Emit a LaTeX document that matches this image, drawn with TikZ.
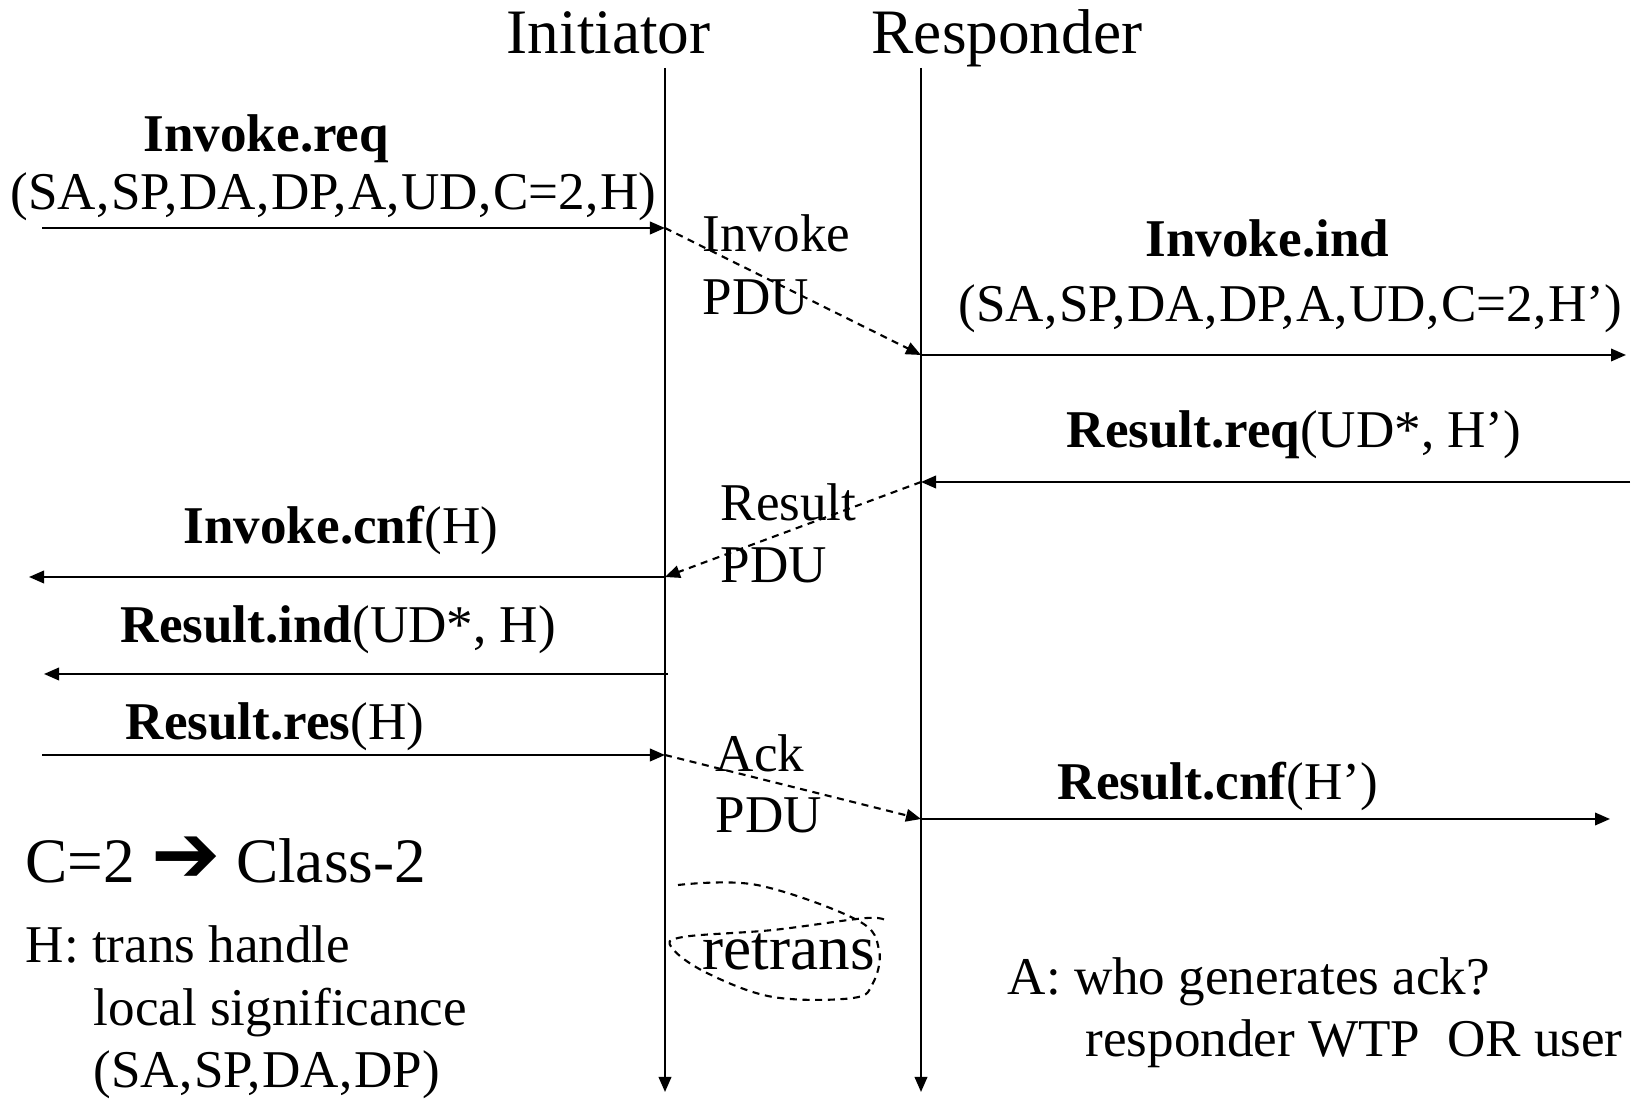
\documentclass[tikz,border=0pt]{standalone}
\usepackage{fontspec}
\setmainfont{Liberation Serif}
\newfontfamily\symfont{DejaVu Sans}
\usetikzlibrary{arrows.meta}
% comma with the slightly wider spacing of the parameter lists
\newcommand\sepc{,\kern0.5pt}
\begin{document}
\begin{tikzpicture}[x=0.01cm,y=-0.01cm,
  msg/.style={line width=0.6pt,-{Triangle[length=0.15cm,width=0.125cm]}},
  pdu/.style={msg,dash pattern=on 2pt off 1.6pt},
  lbl/.style={anchor=base west,inner sep=0pt,font=\fontsize{15.1}{18}\selectfont},
  big/.style={anchor=base west,inner sep=0pt,font=\fontsize{18}{21}\selectfont},
  loop/.style={line width=0.6pt,dash pattern=on 2pt off 1.6pt}]
\useasboundingbox (0,0) rectangle (1636,1101);

% lifelines
\node[big] (ini) at (506,54) {Initiator};
\node[big] (res) at (871,54) {Responder};
\coordinate (iTop) at (665,68);
\coordinate (iBot) at (665,1092);
\coordinate (rTop) at (921,68);
\coordinate (rBot) at (921,1092);
\draw[msg] (iTop) -- (iBot);
\draw[msg] (rTop) -- (rBot);

% end points of the primitives
\coordinate (iA) at (665,228);  \coordinate (reqL) at (42,228);
\coordinate (rA) at (921,355);  \coordinate (indR) at (1626,355);
\coordinate (rB) at (921,482);  \coordinate (rreqR) at (1630,482);
\coordinate (iB) at (665,577);  \coordinate (cnfL) at (29,577);
\coordinate (iC) at (668,674);  \coordinate (rindL) at (44,674);
\coordinate (iD) at (665,755);  \coordinate (resL) at (42,755);
\coordinate (rD) at (921,819);  \coordinate (rcnfR) at (1610,819);

% Invoke
\node[lbl] (ireq) at (143,152) {\bfseries Invoke.req};
\node[lbl] (ireqp) at (10,210) {(SA\sepc SP\sepc DA\sepc DP\sepc A\sepc UD\sepc C=2\sepc H)};
\draw[msg] (reqL) -- (iA);
\draw[pdu] (iA) -- (rA);
\node[lbl] (ipdu1) at (702,252) {Invoke};
\node[lbl] (ipdu2) at (702,315) {PDU};
\node[lbl] (iind) at (1145,257) {\bfseries Invoke.ind};
\node[lbl] (iindp) at (958,322) {(SA\sepc SP\sepc DA\sepc DP\sepc A\sepc UD\sepc C=2\sepc H’)};
\draw[msg] (rA) -- (indR);

% Result
\node[lbl] (rreq) at (1066,448) {\textbf{Result.req}(UD*, H’)};
\draw[msg] (rreqR) -- (rB);
\draw[pdu] (rB) -- (iB);
\node[lbl] (rpdu1) at (720,521) {Result};
\node[lbl] (rpdu2) at (720,583) {PDU};
\node[lbl] (icnf) at (183,544) {\textbf{Invoke.cnf}(H)};
\draw[msg] (iB) -- (cnfL);
\node[lbl] (rind) at (120,643) {\textbf{Result.ind}(UD*, H)};
\draw[msg] (iC) -- (rindL);

% Ack
\node[lbl] (rres) at (125,740) {\textbf{Result.res}(H)};
\draw[msg] (resL) -- (iD);
\draw[pdu] (iD) -- (rD);
\node[lbl] (apdu1) at (715,772) {Ack};
\node[lbl] (apdu2) at (715,833) {PDU};
\node[lbl] (rcnf) at (1057,800) {\textbf{Result.cnf}(H’)};
\draw[msg] (rD) -- (rcnfR);

% notes
\node[big] (cls) at (25,883) {C=2 {\symfont\fontsize{23.5}{24}\selectfont ➔} Class-2};
\node[lbl] (h1) at (25,963) {H: trans handle};
\node[lbl] (h2) at (93,1026) {local significance};
\node[lbl] (h3) at (93,1088) {(SA\sepc SP\sepc DA\sepc DP)};
\node[lbl] (a1) at (1007,995) {A: who generates ack?};
\node[lbl] (a2) at (1085,1057) {responder WTP\ \ OR user};

% retransmission loop
\node[big] (rt) at (702,970) {retrans};
\draw[loop] plot[smooth,tension=0.6] coordinates {
  (678,885) (757,885) (857,920) (879,950) (873,983) (853,998)
  (773,997) (707,973) (672,948) (683,937) (773,930) (867,918) (887,922)};
\end{tikzpicture}
\end{document}
